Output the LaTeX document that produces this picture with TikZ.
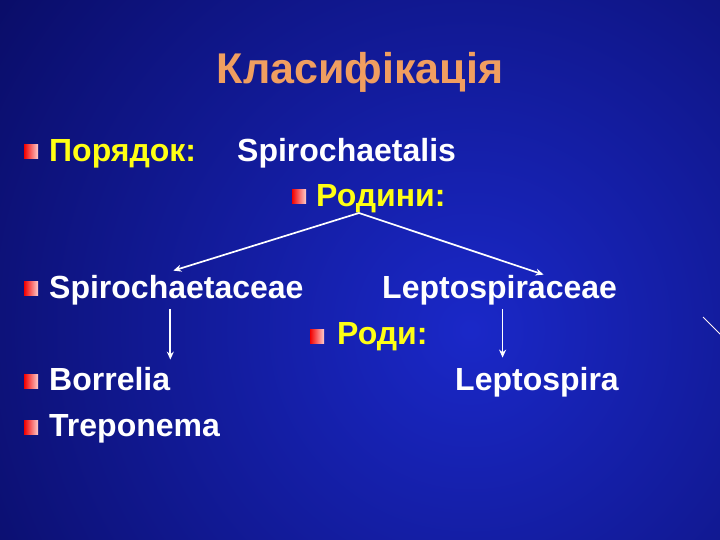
\documentclass[tikz,border=0pt]{standalone}
\usepackage{fontspec}
\setmainfont{Liberation Sans}
\usetikzlibrary{arrows.meta}

\definecolor{slideblue}{RGB}{26,40,200}
\definecolor{slidenavy}{RGB}{6,6,80}
\definecolor{titleorange}{RGB}{240,158,96}
\definecolor{rankyellow}{RGB}{255,255,20}

\tikzset{
  bulletbox/.style={minimum size=14pt, inner sep=0pt, left color=red!95!black, right color=red!20!white},
  rank/.style={anchor=base west, inner sep=0pt, text=rankyellow, font=\fontsize{32}{38}\selectfont\bfseries},
  taxon/.style={anchor=base west, inner sep=0pt, text=white, font=\fontsize{32}{38}\selectfont\bfseries},
  arrowline/.style={draw=white, line width=1.7pt, -{Stealth[length=8pt,width=7pt]}}
}

\begin{document}
\begin{tikzpicture}[x=1pt, y=-1pt]
      % Background of the slide
      \useasboundingbox (0,0) rectangle (720,540);
      \begin{scope}
        \clip (0,0) rectangle (720,540);
        \fill[slidenavy] (0,0) rectangle (720,540);
        \shade[inner color=slideblue, outer color=slidenavy] (470,330) circle (720);
        \draw[white!80!pink, line width=1pt] (703,317) -- (722,336);
      \end{scope}

      % Title
      \node[anchor=base, inner sep=0pt, text=titleorange, font=\fontsize{43}{50}\selectfont\bfseries] (title) at (360,84) {Класифікація};

      % Red square bullets
      \foreach \x/\y [count=\i] in {31/152, 299/197, 31/288, 317/336, 31/381, 31/427} {
          \node[bulletbox] (b\i) at (\x,\y) {};
      }

      % Ranks and taxa
      \node[rank] (order) at (49,162) {Порядок:};
      \node[taxon] (ordname) at (237,162) {Spirochaetalis};
      \node[rank] (families) at (316,207) {Родини:};
      \node[taxon] (famL) at (49,298) {Spirochaetaceae};
      \node[taxon] (famR) at (382,298) {Leptospiraceae};
      \node[rank] (genera) at (337,344) {Роди:};
      \node[taxon] (genB) at (49,390) {Borrelia};
      \node[taxon] (genT) at (49,436) {Treponema};
      \node[taxon] (genL) at (455,390) {Leptospira};

      % Arrows
      \coordinate (fork) at (359,213);
      \draw[arrowline] (fork) -- ([xshift=-3pt,yshift=4pt]famL.north);
      \draw[arrowline] (fork) -- ([xshift=44pt]famR.north);
      \draw[arrowline] ([yshift=-4pt]famL.south -| genB.east) -- ([yshift=7pt]genB.north east);
      \draw[arrowline] ([xshift=3pt,yshift=-4pt]famR.south) -- ([xshift=3pt,yshift=9pt]famR.south |- genL.north);
    \end{tikzpicture}
\end{document}
